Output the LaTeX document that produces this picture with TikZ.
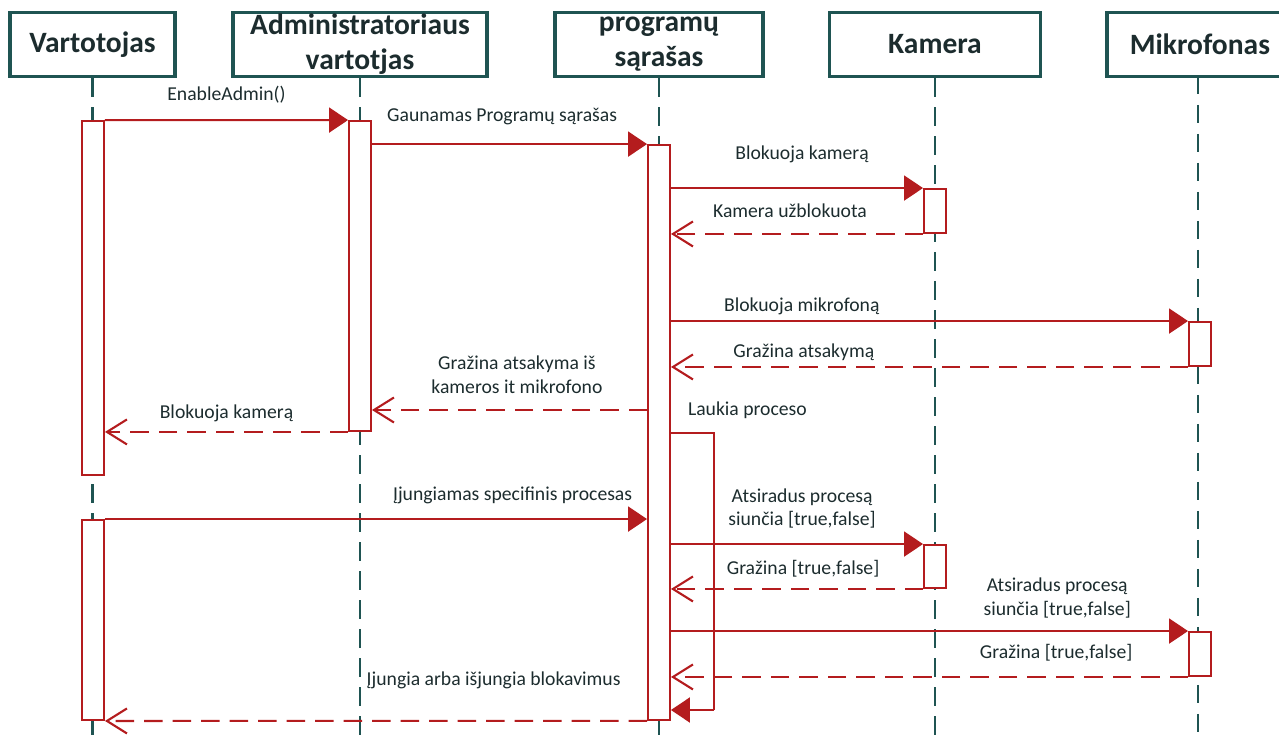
\documentclass[tikz,border=0pt]{standalone}
\usepackage{fontspec}
\setmainfont{Carlito}
\usetikzlibrary{arrows.meta,positioning}
\definecolor{hdrcol}{RGB}{31,84,82}
\definecolor{msgcol}{RGB}{180,28,30}
\definecolor{txtcol}{RGB}{28,44,46}

\begin{document}
\begin{tikzpicture}[x=0.02cm,y=-0.02cm,
	head/.style={draw=hdrcol,line width=2.2pt,rectangle,minimum height=1.28cm,align=center,
		text=txtcol,font=\fontsize{16.8}{19.8}\selectfont\bfseries,inner sep=0pt},
	life/.style={hdrcol,line width=1.3pt,dash pattern=on 0.37cm off 0.21cm},
	bar/.style={draw=msgcol,fill=white,line width=1.1pt,rectangle,minimum width=0.44cm,inner sep=0pt},
	call/.style={msgcol,line width=1.2pt,-{Triangle[length=0.38cm,width=0.5cm]}},
	reply/.style={msgcol,line width=1.2pt,dash pattern=on 0.37cm off 0.2cm,
		-{Straight Barb[length=0.4cm,width=0.5cm,line width=1.2pt]}},
	lbl/.style={text=txtcol,font=\fontsize{11.2}{13.3}\selectfont,align=center,inner sep=0pt}]
	\useasboundingbox (0,0) rectangle (1279,740);
	% koloneles
	\node[head,minimum width=3.3cm] (vart) at (92.5,44.5) {Vartotojas};
	\node[head,minimum width=5.08cm] (admin) at (360,44.5) {Administratoriaus\\vartotjas};
	\node[head,minimum width=4.16cm] (prog) at (659,44.5) {programų\\sąrašas};
	\node[head,minimum width=4.22cm] (kam) at (935,44.5) {Kamera};
	\node[head,minimum width=4.4cm,anchor=west] (mik) at (1105,44.5) {Mikrofonas\hspace*{0.68cm}};
	\coordinate (mikl) at (1198,76);
	\foreach \n in {vart,admin,prog,kam}
		\draw[life] (\n.south) -- (\n.south |- 0,740);
	\draw[life] (mikl) -- (mikl |- 0,740);
	% aktyvacijos
	\node[bar,minimum height=7.08cm] (v1) at (93,298) {};
	\node[bar,minimum height=4.0cm] (v2) at (93,620) {};
	\node[bar,minimum height=6.2cm] (a1) at (360,276) {};
	\node[bar,minimum height=11.5cm] (p1) at (659,432.5) {};
	\node[bar,minimum height=0.88cm] (k1) at (935,211) {};
	\node[bar,minimum height=0.88cm] (m1) at (1200,344) {};
	\node[bar,minimum height=0.86cm] (k2) at (935,566.5) {};
	\node[bar,minimum height=0.88cm] (m2) at (1200,654) {};
	\coordinate (r7) at (0,410);
	\coordinate (wtop) at (714,433);
	\coordinate (wbot) at (714,710);
	% pranesimai
	\draw[call] (v1.north east) -- (a1.north west) node[lbl,midway,yshift=14.2pt] {EnableAdmin()};
	\draw[call] (a1.east |- p1.north) -- (p1.north west) node[lbl,pos=0.473,yshift=15.9pt] {Gaunamas Programų sąrašas};
	\draw[call] (p1.east |- k1.north) -- (k1.north west) node[lbl,pos=0.52,yshift=19.3pt] {Blokuoja kamerą};
	\draw[reply] (k1.south west) -- (p1.east |- k1.south) node[lbl,pos=0.528,yshift=13pt] {Kamera užblokuota};
	\draw[call] (p1.east |- m1.north) -- (m1.north west) node[lbl,pos=0.253,yshift=8.5pt] {Blokuoja mikrofoną};
	\draw[reply] (m1.south west) -- (p1.east |- m1.south) node[lbl,pos=0.743,yshift=8.5pt] {Gražina atsakymą};
	\draw[reply] (p1.west |- r7) -- (a1.east |- r7) node[lbl,pos=0.473,yshift=20.1pt] {Gražina atsakyma iš\\kameros it mikrofono};
	\draw[reply] (a1.south west) -- (v1.east |- a1.south) node[lbl,midway,yshift=10.8pt] {Blokuoja kamerą};
	\node[lbl,right=9.5pt of p1.east |- r7] (wait) {Laukia proceso};
	\draw[msgcol,line width=1.2pt] (p1.east |- wtop) -- (wtop) -- (wbot);
	\draw[call] (wbot) -- (p1.east |- wbot);
	\draw[call] (v2.north east) -- (p1.west |- v2.north) node[lbl,pos=0.752,yshift=13.6pt] {Įjungiamas specifinis procesas};
	\draw[call] (p1.east |- k2.north) -- (k2.north west) node[lbl,pos=0.52,yshift=20.4pt] {Atsiradus procesą\\siunčia [true,false]};
	\draw[reply] (k2.south west) -- (p1.east |- k2.south) node[lbl,pos=0.476,yshift=11.3pt] {Gražina [true,false]};
	\draw[call] (p1.east |- m2.north) -- (m2.north west) node[lbl,pos=0.747,yshift=18.7pt] {Atsiradus procesą\\siunčia [true,false]};
	\draw[reply] (m2.south west) -- (p1.east |- m2.south) node[lbl,pos=0.255,yshift=13.6pt] {Gražina [true,false]};
	\draw[reply] (p1.south west) -- (v2.south east) node[lbl,pos=0.283,yshift=23.2pt] {Įjungia arba išjungia blokavimus};
\end{tikzpicture}
\end{document}
